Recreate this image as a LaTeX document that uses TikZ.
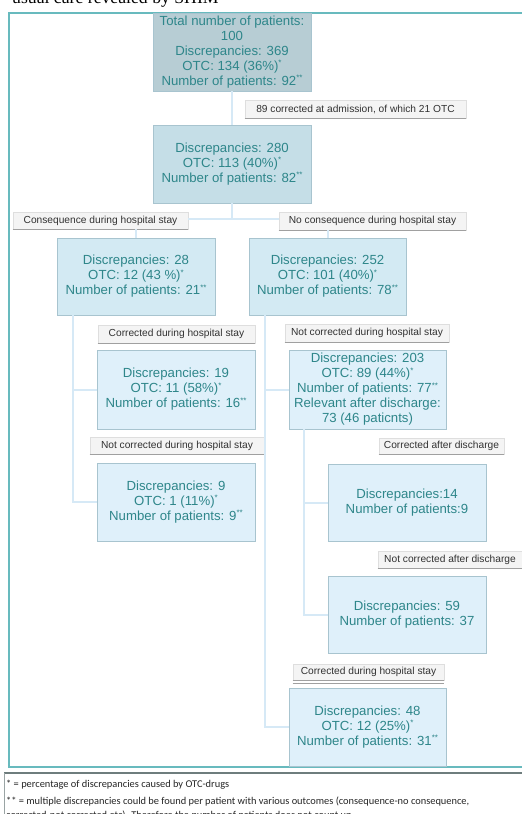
\documentclass[tikz,border=0pt]{standalone}
\usepackage{fontspec}
\setmainfont{Liberation Sans}
\newfontfamily\timesfont{Liberation Serif}
\newfontfamily\calibrifont{Carlito}
\definecolor{txt}{RGB}{46,134,138}
\definecolor{labtxt}{RGB}{50,50,50}
\definecolor{fillA}{RGB}{183,205,212}
\definecolor{fillB}{RGB}{197,222,231}
\definecolor{fillC}{RGB}{211,234,243}
\definecolor{fillD}{RGB}{223,240,250}
\definecolor{boxedge}{RGB}{168,196,207}
\definecolor{conncol}{RGB}{214,233,246}
\definecolor{labfill}{RGB}{244,244,244}
\definecolor{labedge}{RGB}{222,222,222}
\definecolor{labshadow}{RGB}{160,160,160}
\definecolor{frame}{RGB}{104,186,190}
\definecolor{noteframe}{RGB}{110,125,125}
\newcommand{\supst}[1]{\raisebox{0.35em}{\fontsize{8}{8}\selectfont #1}}
\begin{document}
\begin{tikzpicture}[x=1pt,y=-1pt,
  box/.style={rectangle, draw=boxedge, line width=0.8pt, text=txt, align=center,
    font=\fontsize{13.2}{15}\selectfont, inner sep=0pt, minimum width=158pt, minimum height=78pt},
  lab/.style={rectangle, fill=labfill, draw=labedge, line width=0.6pt, text=labtxt,
    font=\fontsize{10.2}{12}\selectfont, inner sep=0pt, minimum height=17pt},
  conn/.style={draw=conncol, line width=2pt},
  labline/.style={draw=labshadow, line width=1pt},
  note/.style={anchor=base west, inner sep=0pt, font=\calibrifont\fontsize{10.4}{12}\selectfont, text=black!85}]
\useasboundingbox (0,0) rectangle (522,814);
\clip (0,0) rectangle (522,814);
\fill[white] (0,0) rectangle (522,814);

% title (cut off at top, as in the reference)
\node[anchor=base west, inner sep=0pt, font=\timesfont\fontsize{17.7}{20}\selectfont] (title) at (12,3) {usual care revealed by SHIM};

% frames
\draw[frame, line width=1.5pt] (9,13) rectangle (530,767);
\draw[noteframe, line width=1.6pt] (530,773) -- (4,773);
\draw[noteframe!70, line width=0.6pt] (4,773) -- (4,830);

% boxes
\node[box, fill=fillA] (b0) at (232,52) {Total number of patients:\\100\\Discrepancies: 369\\OTC: 134 (36\%)\supst{*}\\Number of patients: 92\supst{**}};
\node[box, fill=fillB] (b1) at (232,164) {Discrepancies: 280\\OTC: 113 (40\%)\supst{*}\\Number of patients: 82\supst{**}};
\node[box, fill=fillC, minimum height=77pt] (b28) at (136,276.5) {Discrepancies: 28\\OTC: 12 (43 \%)\supst{*}\\Number of patients: 21\supst{**}};
\node[box, fill=fillC, minimum height=77pt, minimum width=157pt] (b252) at (327.5,276.5) {Discrepancies: 252\\OTC: 101 (40\%)\supst{*}\\Number of patients: 78\supst{**}};
\node[box, fill=fillD, minimum height=79pt] (b19) at (176,389.5) {Discrepancies: 19\\OTC: 11 (58\%)\supst{*}\\Number of patients: 16\supst{**}};
\node[box, fill=fillD] (b9) at (176,502) {Discrepancies: 9\\OTC: 1 (11\%)\supst{*}\\Number of patients: 9\supst{**}};
\node[box, fill=fillD, minimum height=79pt, minimum width=157pt] (b203) at (367.5,389.5) {Discrepancies: 203\\OTC: 89 (44\%)\supst{*}\\Number of patients: 77\supst{**}\\Relevant after discharge:\\73 (46 paticnts)};
\node[box, fill=fillD, minimum height=77pt] (b14) at (407,502.5) {Discrepancies:14\\Number of patients:9};
\node[box, fill=fillD, minimum height=77pt] (b59) at (407,614.5) {Discrepancies: 59\\Number of patients: 37};
\node[box, fill=fillD, minimum width=157pt] (b48) at (367.5,727) {Discrepancies: 48\\OTC: 12 (25\%)\supst{*}\\Number of patients: 31\supst{**}};

% labels
\node[lab, minimum width=221pt, minimum height=18pt] (L89) at (355.5,109) {89 corrected at admission, of which 21 OTC};
\node[lab, minimum width=175pt] (Lcons) at (100.5,220.5) {Consequence during hospital stay};
\node[lab, minimum width=187pt, minimum height=18pt] (Lnocons) at (372.5,221) {No consequence during hospital stay};
\node[lab, minimum width=157pt, minimum height=18pt] (Lcor1) at (176.5,334) {Corrected during hospital stay};
\node[lab, minimum width=174pt] (Lnot1) at (177,445.5) {Not corrected during hospital stay};
\node[lab, minimum width=164pt, minimum height=18pt] (Lnot2) at (367,333) {Not corrected during hospital stay};
\node[lab, minimum width=125pt, minimum height=16pt] (Lcad) at (441.5,446) {Corrected after discharge};
\node[lab, minimum width=144pt] (Lncad) at (450,559.5) {Not corrected after discharge};
\node[lab, minimum width=151pt, minimum height=16pt] (Lcor2) at (368.5,672) {Corrected during hospital stay};
\foreach \n in {L89,Lcons,Lnocons,Lcor1,Lnot1,Lnot2,Lcad,Lncad,Lcor2}
  \draw[labline] (\n.south west) -- (\n.south east);
\draw[labline, line width=1.6pt] ([yshift=-3pt]Lcor2.south west) -- ([yshift=-3pt]Lcor2.south east);

% connectors
\draw[conn] (b0.south) -- (b1.north);
\draw[conn] (b1.south) -- ++(0,16) coordinate (j1);
\draw[conn] (Lcons.east |- j1) -- (Lnocons.west |- j1);
\draw[conn] (Lcons.south -| b28.north) -- (b28.north);
\draw[conn] (Lnocons.south -| b252.north) -- (b252.north);
\draw[conn] ([xshift=16pt]b28.south west) |- (b19.west);
\draw[conn] ([xshift=16pt]b28.south west) |- (b9.west);
\draw[conn] ([xshift=16pt]b252.south west) |- (b203.west);
\draw[conn] ([xshift=16pt]b252.south west) |- (b48.west);
\draw[conn] ([xshift=15pt]b203.south west) |- (b14.west);
\draw[conn] ([xshift=15pt]b203.south west) |- (b59.west);

% footnotes (last line cut off, as in the reference)
\node[note] (n1) at (6,787) {* = percentage of discrepancies caused by OTC-drugs};
\node[note] (n2) at (6,804) {** = multiple discrepancies could be found per patient with various outcomes (consequence-no consequence,};
\node[note] (n3) at (6,818) {corrected-not corrected etc). Therefore the number of patients does not count up.};
\end{tikzpicture}
\end{document}
